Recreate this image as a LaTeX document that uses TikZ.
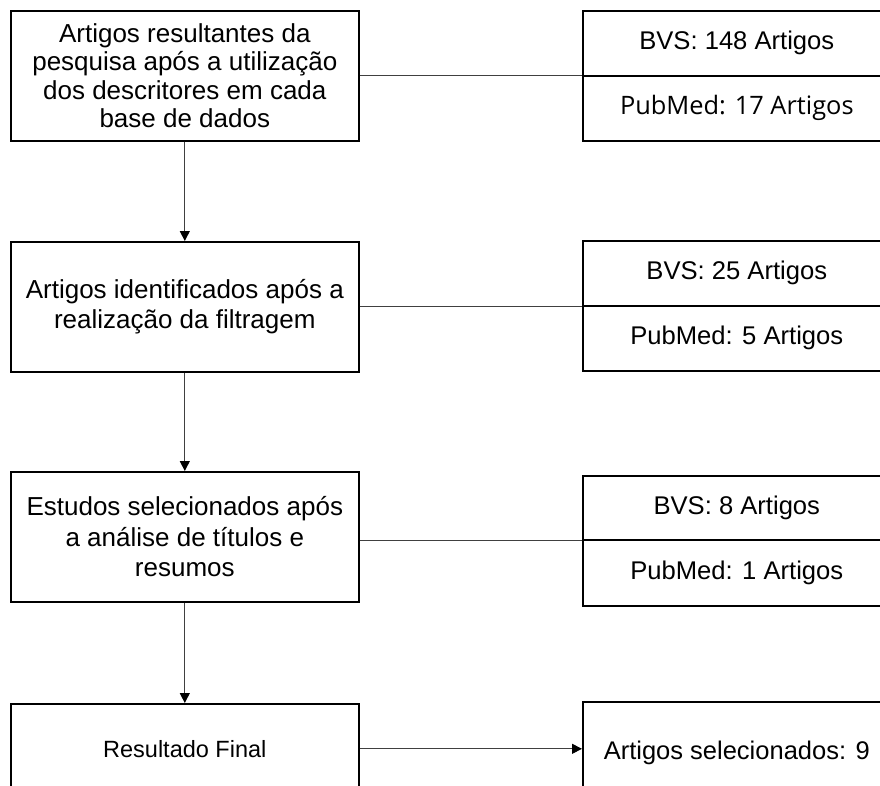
\documentclass[tikz,border=0pt]{standalone}
\usepackage{fontspec}
\setmainfont{Liberation Sans}
\newfontfamily\opensans{Open Sans}
\usetikzlibrary{arrows.meta}
\begin{document}
\begin{tikzpicture}[x=1pt,y=-1pt,
  lbox/.style={draw=black,line width=1.6pt,minimum width=348pt,minimum height=130pt,
    align=center,font=\fontsize{26}{30.5}\selectfont,inner sep=0pt,anchor=north west},
  rbox/.style={draw=black,line width=1.6pt,minimum width=308pt,minimum height=65pt,
    font=\fontsize{25.6}{30}\selectfont,inner sep=0pt,anchor=north west},
  link/.style={draw=black!75,line width=0.9pt},
  flow/.style={link,-{Triangle[width=10pt,length=10pt,color=black]}}]
\useasboundingbox (0,0) rectangle (880,785);
\clip (0,0) rectangle (880,785);

\node[lbox,font=\fontsize{26}{28.5}\selectfont] (b1) at (10,10) {Artigos resultantes da\\pesquisa após a utilização\\dos descritores em cada\\base de dados};
\node[lbox] (b2) at (10,241) {Artigos identificados após a\\realização da filtragem};
\node[lbox] (b3) at (10,471) {Estudos selecionados após\\a análise de títulos e\\resumos};
\node[lbox,minimum height=90pt,font=\fontsize{23.5}{28}\selectfont] (b4) at (10,703) {Resultado Final};

\node[rbox] (r1a) at (582,10) {BVS: 148 Artigos};
\node[rbox,font=\opensans\fontsize{25.4}{30}\selectfont] (r1b) at (582,75) {PubMed: 17 Artigos};
\node[rbox] (r2a) at (582,240) {BVS: 25 Artigos};
\node[rbox] (r2b) at (582,305) {PubMed: 5 Artigos};
\node[rbox,minimum height=64pt] (r3a) at (582,475) {BVS: 8 Artigos};
\node[rbox,minimum height=66pt] (r3b) at (582,539) {PubMed: 1 Artigos};
\node[rbox,minimum height=102pt,font=\fontsize{25.5}{30}\selectfont] (r4) at (582,701) {Artigos selecionados: 9};

\draw[flow] (b1) -- (b2);
\draw[flow] (b2) -- (b3);
\draw[flow] (b3) -- (b4);

\draw[link] (b1.east) -- (b1.east -| r1a.west);
\draw[link] (b2.east) -- (b2.east -| r2a.west);
\draw[link] (b3.east |- r3a.south) -- (r3a.south west);
\draw[flow] (b4.east) -- (b4.east -| r4.west);
\end{tikzpicture}
\end{document}
